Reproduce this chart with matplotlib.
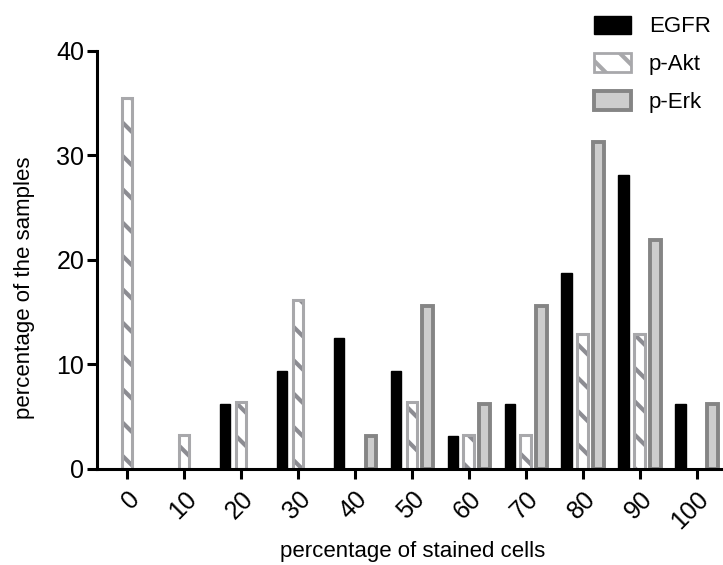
import numpy as np
import matplotlib
matplotlib.use("Agg")
import matplotlib.pyplot as plt
from matplotlib.patches import Patch

plt.rcParams['font.family'] = ['Liberation Sans', 'DejaVu Sans']
plt.rcParams['hatch.linewidth'] = 3.0

categories = ['0', '10', '20', '30', '40', '50', '60', '70', '80', '90', '100']
egfr = [0, 0, 6.25, 9.375, 12.5, 9.375, 3.125, 6.25, 18.75, 28.125, 6.25]
pakt = [35.48, 3.23, 6.45, 16.13, 0, 6.45, 3.23, 3.23, 12.90, 12.90, 0]
perk = [0, 0, 0, 0, 3.125, 15.625, 6.25, 15.625, 31.25, 21.875, 6.25]

x = np.arange(len(categories))
off = 0.28
w = 0.19


def nonzero(vals):
    # skip empty bins so no flat outline shows on the axis
    idx = [i for i, v in enumerate(vals) if v > 0]
    return np.array(idx), [vals[i] for i in idx]


W, H = 723, 565
fig = plt.figure(figsize=(W / 100, H / 100), dpi=100)
ax = fig.add_axes([0.134, 0.170, 0.866, 0.740])

# EGFR - solid black
xi, v = nonzero(egfr)
ax.bar(xi - off, v, w, color='black', edgecolor='black', linewidth=1)
# p-Akt - white with grey diagonal stripes
xi, v = nonzero(pakt)
ax.bar(xi, v, w, color='white', edgecolor='#8c8c92', hatch='\\', linewidth=0)
ax.bar(xi, v, w, fill=False, edgecolor='#a8a8ab', linewidth=2.2)
# p-Erk - light grey with darker border
xi, v = nonzero(perk)
ax.bar(xi + off, v, w, color='#cdcdcd', edgecolor='#858585', linewidth=2.8)

ax.set_xlim(-0.53, 10.46)
ax.set_ylim(0, 40)
ax.set_yticks([0, 10, 20, 30, 40])
ax.set_xticks(x)
ax.set_xticklabels(categories, rotation=45, ha='right', va='top', rotation_mode='anchor')

ax.spines['top'].set_visible(False)
ax.spines['right'].set_visible(False)
ax.spines['left'].set_linewidth(2.2)
ax.spines['bottom'].set_linewidth(2.2)
ax.tick_params(axis='both', direction='out', length=7, width=2.2, labelsize=18)
ax.tick_params(axis='x', pad=6)
ax.tick_params(axis='y', pad=2)

# axis titles placed in figure pixels
fig.text(413 / W, 1 - 552 / H, 'percentage of stained cells', fontsize=16,
         ha='center', va='center')
fig.text(25 / W, 1 - 288 / H, 'percentage of the samples', fontsize=16,
         ha='center', va='center', rotation=90)

handles = [
    Patch(facecolor='black', edgecolor='black', label='EGFR'),
    Patch(facecolor='white', edgecolor='#a8a8ab', hatch='\\', linewidth=2, label='p-Akt'),
    Patch(facecolor='#cdcdcd', edgecolor='#858585', linewidth=2.8, label='p-Erk'),
]
leg = fig.legend(handles=handles, loc='upper left', bbox_to_anchor=(0.80, 1.0),
                 frameon=False, fontsize=16, handlelength=1.67, handleheight=0.9,
                 labelspacing=0.72, handletextpad=0.8, borderaxespad=0.3)

fig.savefig('out.png', dpi=100)
